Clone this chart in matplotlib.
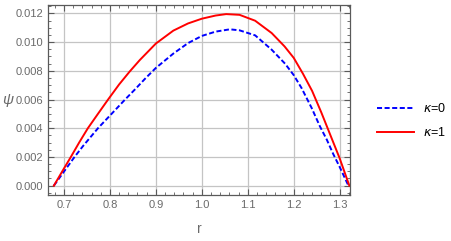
import matplotlib
matplotlib.use("Agg")
import matplotlib.pyplot as plt
from matplotlib.ticker import MultipleLocator, FormatStrFormatter

# curves
r_k0 = [0.678, 0.700, 0.723, 0.742, 0.774, 0.800, 0.833, 0.855, 0.878, 0.900, 0.938,
        0.970, 1.000, 1.030, 1.061, 1.082, 1.116, 1.152, 1.181, 1.200, 1.217,
        1.239, 1.257, 1.272, 1.286, 1.300, 1.319]
psi_k0 = [0.0, 0.00098, 0.0020, 0.00278, 0.0040, 0.00488, 0.0060, 0.00672, 0.0075, 0.0082, 0.0092,
          0.00993, 0.01043, 0.01073, 0.01089, 0.01082, 0.01047, 0.00947, 0.0085, 0.0077, 0.0068,
          0.00541, 0.00413, 0.0032, 0.0022, 0.0013, 0.0]

r_k1 = [0.678, 0.696, 0.715, 0.733, 0.752, 0.775, 0.796, 0.820, 0.843, 0.865, 0.900,
        0.938, 0.970, 1.000, 1.030, 1.053, 1.082, 1.116, 1.152, 1.180, 1.200,
        1.220, 1.240, 1.260, 1.280, 1.300, 1.321]
psi_k1 = [0.0, 0.00098, 0.0020, 0.0030, 0.0040, 0.00505, 0.0060, 0.00705, 0.00795, 0.00875, 0.0099,
          0.0108, 0.0113, 0.01163, 0.01185, 0.01195, 0.0119, 0.01149, 0.01063, 0.0097, 0.0089,
          0.0078, 0.0066, 0.0051, 0.0035, 0.0019, 0.0]

labels = ["$\\kappa$=0", "$\\kappa$=1"]

plt.rcParams['font.family'] = ['Liberation Sans', 'DejaVu Sans']

fig = plt.figure(figsize=(4.51, 2.41), dpi=100)
ax = fig.add_axes([0.1064, 0.191, 0.6696, 0.788])

l0, = ax.plot(r_k0, psi_k0, color='#0000ff', lw=1.4, ls=(0, (2.6, 1.3)))
l1, = ax.plot(r_k1, psi_k1, color='#ff0000', lw=1.4)

ax.set_xlim(0.6652, 1.3224)
ax.set_ylim(-0.00065, 0.01258)

ax.xaxis.set_major_locator(MultipleLocator(0.1))
ax.xaxis.set_minor_locator(MultipleLocator(0.02))
ax.yaxis.set_major_locator(MultipleLocator(0.002))
ax.yaxis.set_minor_locator(MultipleLocator(0.0005))
ax.xaxis.set_major_formatter(FormatStrFormatter('%.1f'))
ax.yaxis.set_major_formatter(FormatStrFormatter('%.3f'))

ax.grid(True, which='major', color='#c4c4c4', lw=0.9)
ax.set_axisbelow(True)

for s in ax.spines.values():
    s.set_color('#5a5a5a')
    s.set_linewidth(0.9)
ax.tick_params(which='both', direction='in', top=True, right=True,
               color='#5a5a5a', labelcolor='#6a6a6a', labelsize=8)
ax.tick_params(which='major', length=4, width=0.8)
ax.tick_params(which='minor', length=2, width=0.6)

ax.set_xlabel('r', color='#6a6a6a', fontsize=10, labelpad=9)
fig.text(0.016, 0.585, '\u03c8', color='#6a6a6a', fontsize=11,
         style='italic', ha='center', va='center')

fig.legend([l0, l1], labels, loc='center left', bbox_to_anchor=(0.81, 0.5),
           frameon=False, fontsize=9, handlelength=3.0, labelspacing=0.9,
           handletextpad=0.7)

fig.savefig('out.png', dpi=100)
